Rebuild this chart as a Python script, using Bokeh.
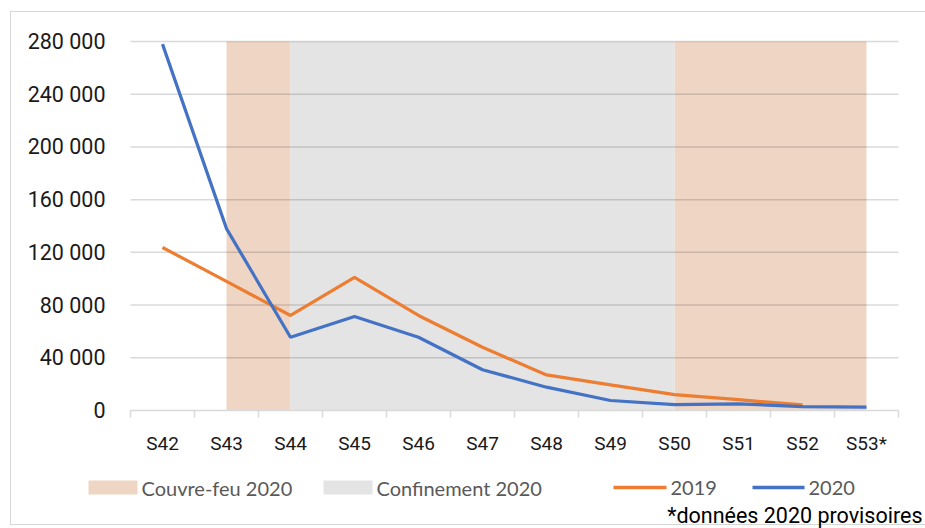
from bokeh.plotting import figure
from bokeh.models import FixedTicker, Range1d
from bokeh.core.properties import value
from bokeh.embed import file_html
from bokeh.resources import INLINE

weeks = ["S42", "S43", "S44", "S45", "S46", "S47", "S48", "S49", "S50", "S51", "S52", "S53*"]
vals_2019 = [123700, 98000, 72100, 101000, 72100, 48000, 27000, 19500, 12000, 8200, 4200]
vals_2020 = [278000, 138000, 55600, 71300, 55600, 30900, 17700, 7600, 4500, 5100, 3000, 2500]
curfew_spans = [("S43", "S44"), ("S50", "S53*")]
lockdown_spans = [("S44", "S50")]
y_ticks = [0, 40000, 80000, 120000, 160000, 200000, 240000, 280000]
legend_labels = ["Couvre-feu 2020", "Confinement 2020", "2019", "2020"]
footnote = "*données 2020 provisoires"

C_CURFEW, C_LOCK, C_2019, C_2020 = "#EFD5C4", "#E4E4E4", "#ED7D31", "#4472C4"
AX = "Roboto"
LEG = "Lato"
FRAME = "#D6D6D6"

W, H = 925, 528
# plot-area geometry in page pixels
PL, PR, PT, PB = 130, 898, 41, 410
n = len(weeks)
YMAX = y_ticks[-1]
cat_w = (PR - PL) / n
def dx(px):
    return (px - PL) / cat_w - 0.5
def dy(py):
    return (PB - py) * YMAX / (PB - PT)

p = figure(width=W, height=H, output_backend="svg", toolbar_location=None, title=None,
           x_range=Range1d(dx(0), dx(W)), y_range=Range1d(dy(H), dy(0)),
           min_border=0, min_border_left=0, min_border_right=0,
           min_border_top=0, min_border_bottom=0)
p.outline_line_color = None
p.background_fill_color = None
p.border_fill_color = None
p.styles = {
    "background-color": "white",
    "background-image": ", ".join([f"linear-gradient({FRAME},{FRAME})"] * 3),
    "background-size": "1px 514px, 915px 1px, 915px 1px",
    "background-position": "10px 11px, 10px 11px, 10px 524px",
    "background-repeat": "no-repeat",
}

idx = {w: i for i, w in enumerate(weeks)}
x_lo, x_hi = -0.5, n - 0.5

# shaded periods
p.quad(left=[idx[a] for a, b in curfew_spans], right=[idx[b] for a, b in curfew_spans],
       bottom=0, top=YMAX, fill_color=C_CURFEW, line_color=None, level="image")
p.quad(left=[idx[a] for a, b in lockdown_spans], right=[idx[b] for a, b in lockdown_spans],
       bottom=0, top=YMAX, fill_color=C_LOCK, line_color=None, level="image")

# horizontal gridlines (over the shading)
p.xgrid.grid_line_color = None
p.ygrid.grid_line_color = None
p.segment(x0=[x_lo] * (len(y_ticks) - 1), x1=[x_hi] * (len(y_ticks) - 1),
          y0=y_ticks[1:], y1=y_ticks[1:], line_color="black", line_alpha=0.15, line_width=1.5)

# data lines
p.line(list(range(len(vals_2019))), vals_2019, line_color=C_2019, line_width=3.2)
p.line(list(range(len(vals_2020))), vals_2020, line_color=C_2020, line_width=3.2)

# x axis at y = 0
xa = p.xaxis[0]
xa.fixed_location = 0
xa.bounds = (x_lo, x_hi)
xa.ticker = FixedTicker(ticks=list(range(n)), minor_ticks=[i - 0.5 for i in range(n + 1)])
xa.major_label_overrides = {i: w for i, w in enumerate(weeks)}
xa.major_tick_out = 0
xa.major_tick_in = 0
xa.minor_tick_out = 7
xa.minor_tick_in = 0
xa.minor_tick_line_color = "#D9D9D9"
xa.minor_tick_line_width = 1.5
xa.axis_line_color = "#D9D9D9"
xa.axis_line_width = 1.5
xa.major_label_text_font = AX
xa.major_label_text_font_size = "19px"
xa.major_label_text_color = "#1a1a1a"
xa.major_label_standoff = 14

# y axis at x = left edge of plot area
ya = p.yaxis[0]
ya.fixed_location = x_lo
ya.bounds = (0, YMAX)
ya.ticker = FixedTicker(ticks=y_ticks)
ya.major_label_overrides = {t: f"{t:,}".replace(",", " ") for t in y_ticks}
ya.axis_line_color = None
ya.major_tick_line_color = None
ya.major_tick_out = 0
ya.major_tick_in = 0
ya.minor_tick_line_color = None
ya.major_label_text_font = AX
ya.major_label_text_font_size = "21.5px"
ya.major_label_text_color = "#1a1a1a"
ya.major_label_standoff = 25

# legend row (positions in page pixels converted to data space)
ly = 487
sw_l = [88, 323]
sw_r = [137, 372]
p.quad(left=[dx(v) for v in sw_l], right=[dx(v) for v in sw_r],
       top=[dy(ly - 7)] * 2, bottom=[dy(ly + 7)] * 2,
       fill_color=[C_CURFEW, C_LOCK], line_color=None)
ln_l = [613, 752]
ln_r = [666, 804]
p.segment(x0=[dx(v) for v in ln_l], x1=[dx(v) for v in ln_r], y0=[dy(ly)] * 2, y1=[dy(ly)] * 2,
          line_color=[C_2019, C_2020], line_width=3.5)
p.text(x=[dx(v) for v in [141, 376, 670, 808]], y=[dy(ly)] * 4, text=legend_labels,
       text_font=value(LEG), text_font_size="20px", text_color="#595959",
       text_align="left", text_baseline="middle")
p.text(x=[dx(922)], y=[dy(515)], text=[footnote], text_font=value(AX),
       text_font_size="21.5px", text_color="#000000",
       text_align="right", text_baseline="middle")

open("out.html", "w").write(file_html(p, INLINE))
